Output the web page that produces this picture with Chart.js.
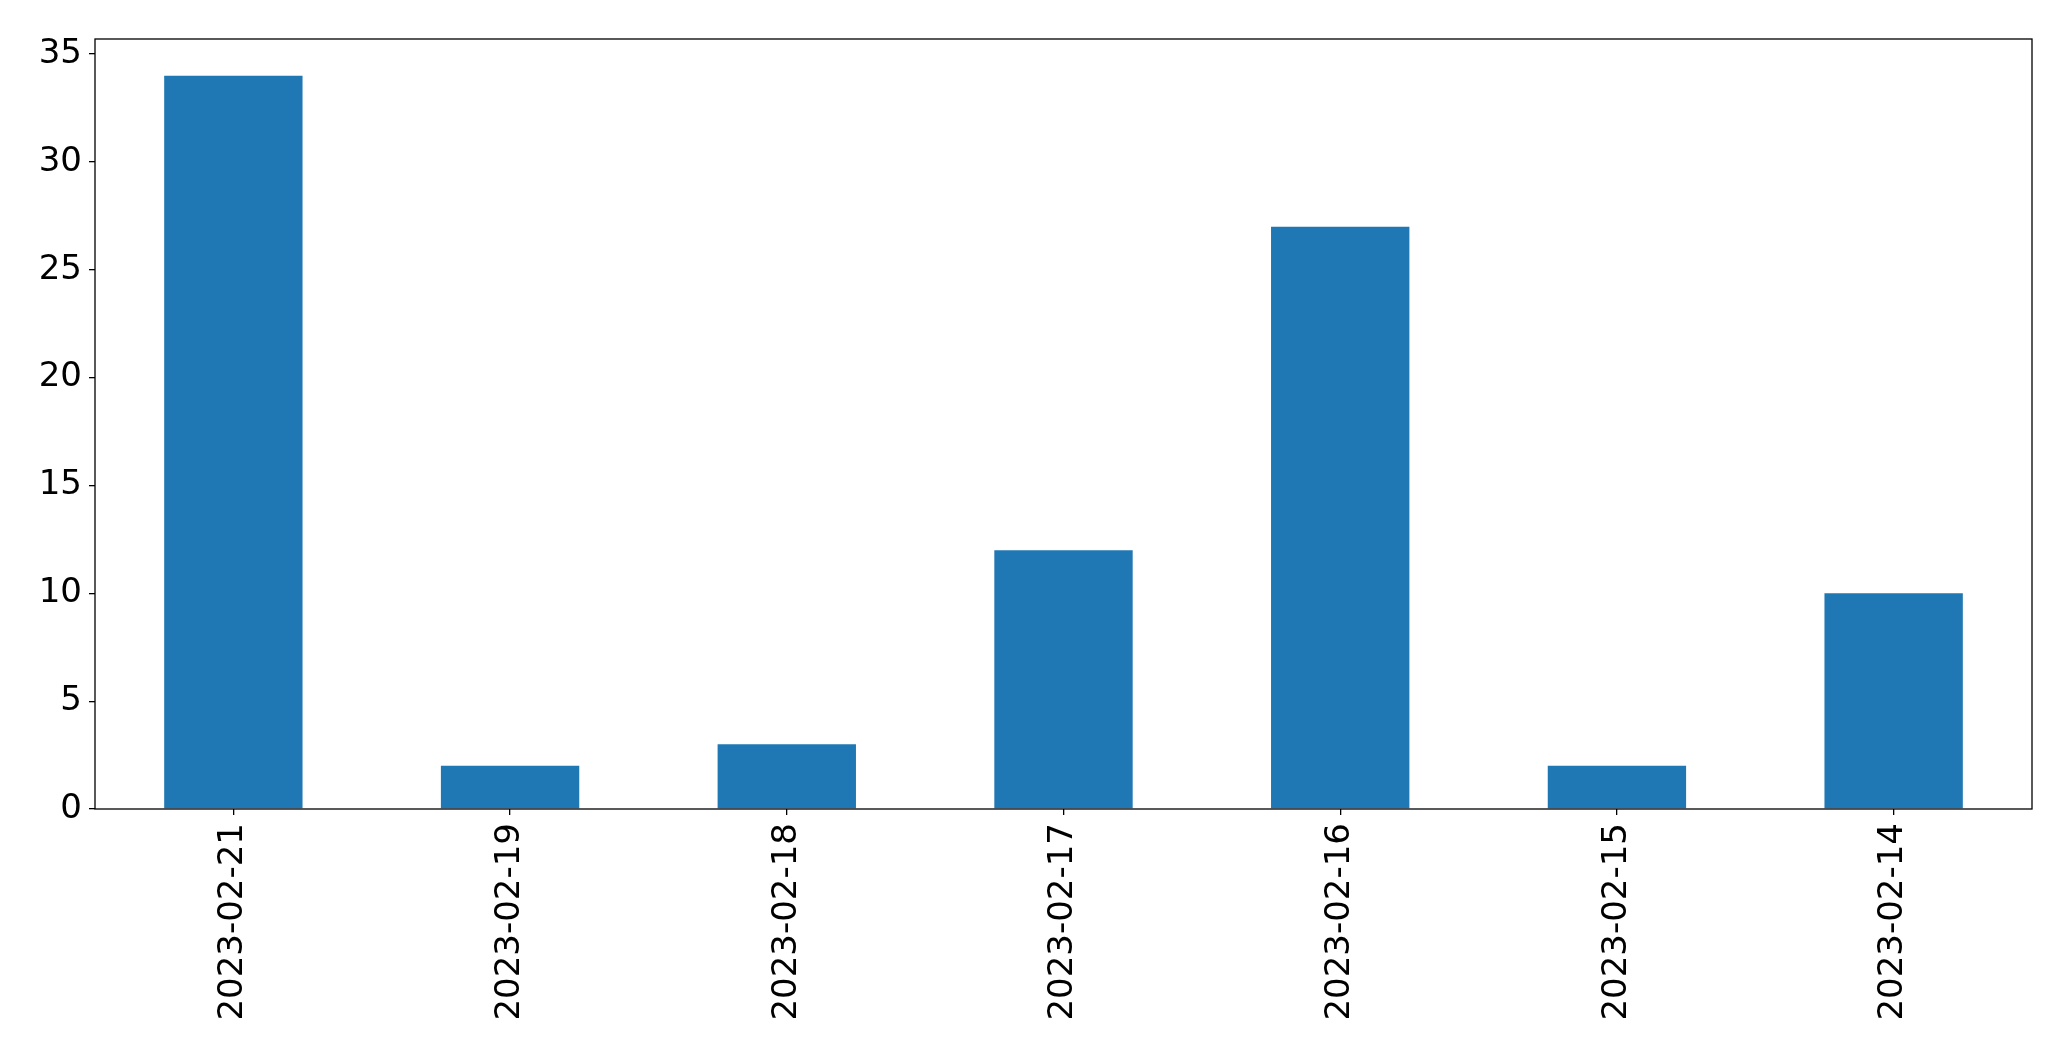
<!DOCTYPE html>
<html>
<head>
<meta charset="utf-8">
<script src="https://cdn.jsdelivr.net/npm/chart.js@4/dist/chart.umd.min.js"></script>
<style>
html,body{margin:0;padding:0;background:#fff;}
#wrap{width:2071px;height:1061px;position:relative;}
</style>
</head>
<body>
<div id="wrap"><canvas id="c" width="2071" height="1061"></canvas></div>
<script>
const categories = ["2023-02-21","2023-02-19","2023-02-18","2023-02-17","2023-02-16","2023-02-15","2023-02-14"];
const values = [34, 2, 3, 12, 27, 2, 10];
const yTicks = [0, 5, 10, 15, 20, 25, 30, 35];

const frame = {
  id: 'frame',
  afterDatasetsDraw(chart) {
    const a = chart.chartArea, ctx = chart.ctx;
    ctx.save();
    ctx.strokeStyle = '#000';
    ctx.lineWidth = 1.3;
    ctx.strokeRect(a.left, a.top, a.right - a.left, a.bottom - a.top);
    ctx.restore();
  }
};

new Chart(document.getElementById('c'), {
  type: 'bar',
  data: {
    labels: categories,
    datasets: [{
      data: values,
      backgroundColor: '#1f77b4',
      borderWidth: 0,
      categoryPercentage: 0.5,
      barPercentage: 1.0
    }]
  },
  options: {
    responsive: false,
    animation: false,
    devicePixelRatio: 1,
    layout: { padding: { top: 39, right: 39, left: 0, bottom: 0 } },
    plugins: { legend: { display: false }, tooltip: { enabled: false } },
    scales: {
      x: {
        offset: true,
        grid: { offset: false, drawOnChartArea: false, drawTicks: true, tickLength: 6, color: '#000', lineWidth: 1.3 },
        border: { display: false },
        ticks: { color: '#000', font: { family: 'DejaVu Sans', size: 34 }, minRotation: 90, maxRotation: 90, padding: 8, autoSkip: false },
        afterFit(s) { s.height = 252; }
      },
      y: {
        min: 0,
        max: 35.7,
        afterBuildTicks(s) { s.ticks = yTicks.map(v => ({ value: v })); },
        grid: { drawOnChartArea: false, drawTicks: true, tickLength: 6, color: '#000', lineWidth: 1.3 },
        border: { display: false },
        ticks: { color: '#000', font: { family: 'DejaVu Sans', size: 34 }, padding: 7, includeBounds: false },
        afterFit(s) { s.width = 95; }
      }
    }
  },
  plugins: [frame]
});
</script>
</body>
</html>
